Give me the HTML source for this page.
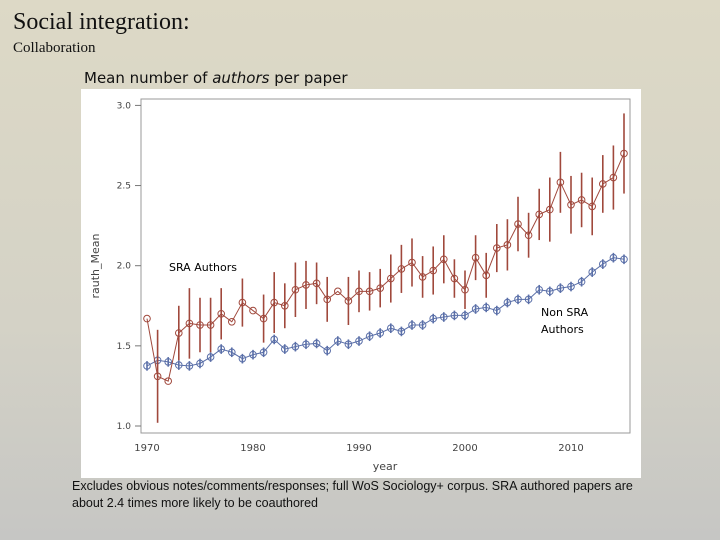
<!DOCTYPE html>
<html><head><meta charset="utf-8"><style>
body{margin:0;width:720px;height:540px;overflow:hidden;background:linear-gradient(#ddd9c6,#d4d2c6 60%,#c6c6c4);font-family:"Liberation Sans",sans-serif;position:relative}
.t{position:absolute;white-space:nowrap}
</style></head><body>
<div class="t" style="left:13px;top:9px;font:24px 'Liberation Serif',serif;color:#111">Social integration:</div>
<div class="t" style="left:13px;top:40px;font:15px 'Liberation Serif',serif;color:#111">Collaboration</div>
<div class="t" style="left:84px;top:69px;font:15px 'DejaVu Sans',sans-serif;color:#111">Mean number of <i>authors</i> per paper</div>
<div style="position:absolute;left:81px;top:89px;width:560px;height:389px;background:#fff"></div>
<svg id="c" width="720" height="540" style="position:absolute;left:0;top:0"></svg>
<div class="t" style="left:72px;top:478px;font:12.5px 'Liberation Sans',sans-serif;color:#111;line-height:17px">Excludes obvious notes/comments/responses; full WoS Sociology+ corpus. SRA authored papers are<br>about 2.4 times more likely to be coauthored</div>
<script>
const years=[];for(let y=1970;y<=2015;y++)years.push(y);
const sraMean=[1.67,1.31,1.28,1.58,1.64,1.63,1.63,1.70,1.65,1.77,1.72,1.67,1.77,1.75,1.85,1.88,1.89,1.79,1.84,1.78,1.84,1.84,1.86,1.92,1.98,2.02,1.93,1.97,2.04,1.92,1.85,2.05,1.94,2.11,2.13,2.26,2.19,2.32,2.35,2.52,2.38,2.41,2.37,2.51,2.55,2.70];
const sraErr=[0,0.29,0,0.17,0.22,0.17,0.17,0.16,0,0.15,0,0.15,0.19,0.14,0.17,0.15,0.13,0.14,0,0.15,0.13,0.12,0.12,0.15,0.15,0.15,0.13,0.15,0.15,0.12,0.12,0.14,0.14,0.15,0.16,0.17,0.14,0.16,0.20,0.19,0.18,0.17,0.18,0.18,0.20,0.25];
const nonMean=[1.375,1.41,1.40,1.38,1.375,1.39,1.43,1.48,1.46,1.42,1.445,1.46,1.54,1.48,1.495,1.51,1.515,1.47,1.53,1.51,1.53,1.56,1.58,1.61,1.59,1.63,1.63,1.67,1.68,1.69,1.69,1.73,1.74,1.72,1.77,1.79,1.79,1.85,1.84,1.86,1.87,1.90,1.96,2.01,2.05,2.04];
const nonErr=years.map(()=>0.03);
const yTicks=[1.0,1.5,2.0,2.5,3.0];
const xTicks=[1970,1980,1990,2000,2010];
const NS="http://www.w3.org/2000/svg",svg=document.getElementById('c');
const X=y=>147+(y-1970)*10.6, Y=v=>426-(v-1)*160.3;
function el(t,a,p){const e=document.createElementNS(NS,t);for(const k in a)e.setAttribute(k,a[k]);(p||svg).appendChild(e);return e;}
const fr=el('rect',{x:141,y:99,width:489,height:334,fill:'none',stroke:'#999','stroke-width':1});


yTicks.forEach(v=>{
 const g=el('g',{});
 
 
 el('line',{x1:135,x2:141,y1:Y(v),y2:Y(v),stroke:'#777'},g);
 const t=el('text',{x:131,y:Y(v)+3,'text-anchor':'end','font-size':9,fill:'#444','font-family':'DejaVu Sans'},g);t.textContent=v.toFixed(1);
});
xTicks.forEach(v=>{
 const t=el('text',{x:X(v),y:451,'text-anchor':'middle','font-size':10,fill:'#444','font-family':'DejaVu Sans'});
 
 
 t.textContent=v;
});
const xl=el('text',{x:385,y:470,'text-anchor':'middle','font-size':11,fill:'#444','font-family':'DejaVu Sans'});xl.textContent='year';


const yl=el('text',{x:0,y:0,transform:'translate(99,266) rotate(-90)','text-anchor':'middle','font-size':11,fill:'#444','font-family':'DejaVu Sans'});yl.textContent='rauth_Mean';


function series(m,e,col,name){
 const g=el('g',{});
 
 
 m.forEach((v,i)=>{if(e[i]>0)el('line',{x1:X(years[i]),x2:X(years[i]),y1:Y(v+e[i]),y2:Y(v-e[i]),stroke:col,'stroke-width':1.6},g);});
 el('polyline',{points:m.map((v,i)=>X(years[i])+','+Y(v)).join(' '),fill:'none',stroke:col,'stroke-width':1},g);
 m.forEach((v,i)=>{const c=el('circle',{cx:X(years[i]),cy:Y(v),r:3.3,fill:'none',stroke:col,'stroke-width':1},g);
 
 });
}
series(nonMean,nonErr,'#5a6fa8','non-sra-series');
series(sraMean,sraErr,'#a0483c','sra-series');
const a=el('text',{x:169,y:271,'font-size':11,'font-weight':'normal',fill:'#000','font-family':'DejaVu Sans'});a.textContent='SRA Authors';


const b=el('text',{x:541,y:316,'font-size':11,fill:'#000','font-family':'DejaVu Sans'});b.innerHTML='<tspan x="541">Non SRA</tspan><tspan x="541" dy="17">Authors</tspan>';


</script>
</body></html>
